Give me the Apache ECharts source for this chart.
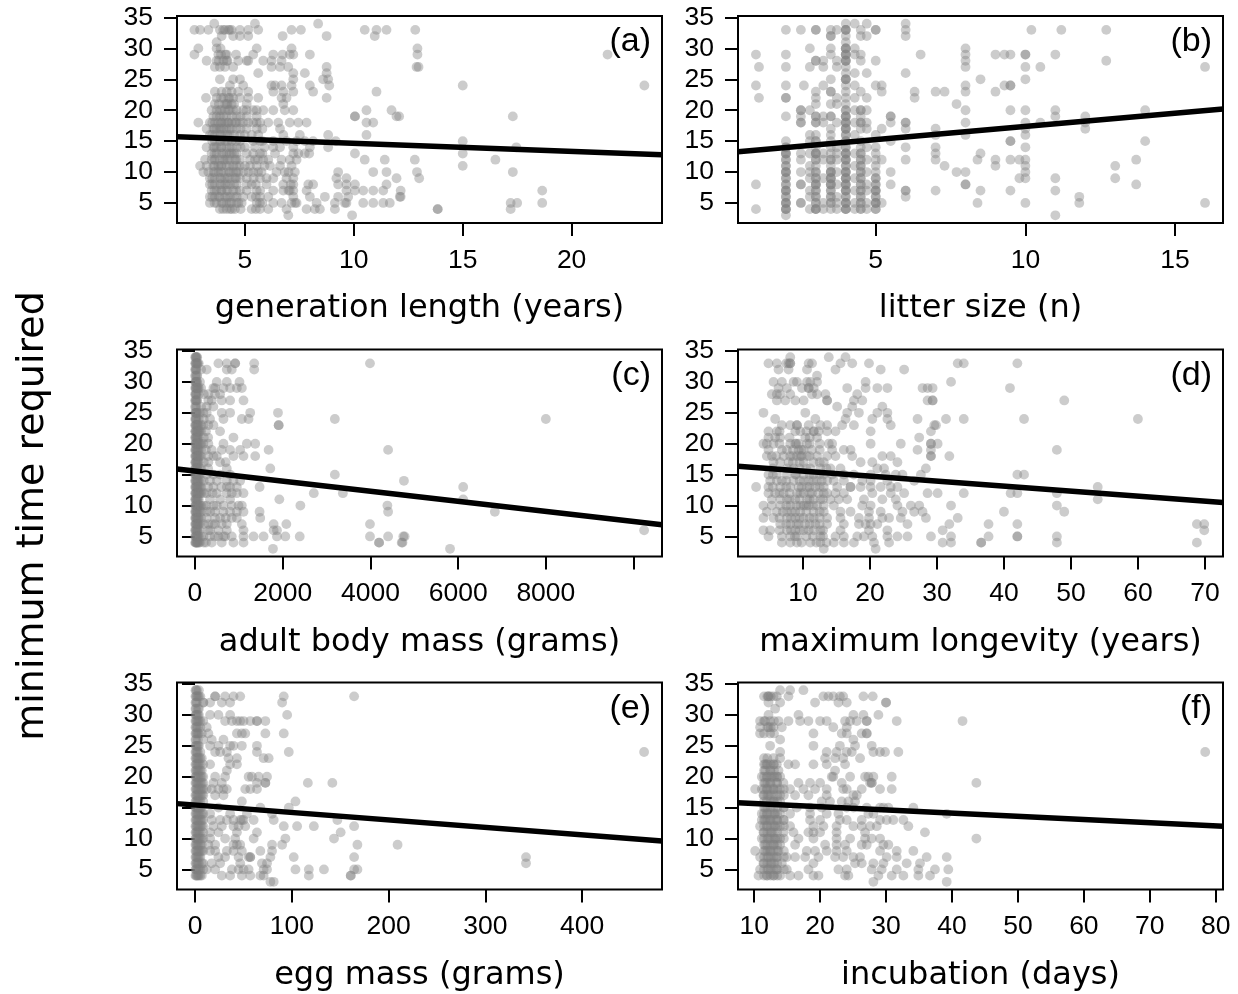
<!DOCTYPE html>
<html><head><meta charset="utf-8">
<script src="https://cdn.jsdelivr.net/npm/echarts@6/dist/echarts.min.js"></script>
<style>html,body{margin:0;padding:0;background:#fff}#c{width:1238px;height:994px}</style>
</head><body><div id="c"></div><script>
// ---------- DATA ----------
// rows: [y, x1, x2, ...]   cols: [x, y1, y2, ...]
const genLengthRows = [
[34,3.59,5.46,8.36],
[33,2.68,2.94,3.32,3.85,4.08,4.24,4.39,4.77,5.15,5.61,7.14,7.57,10.5,11.04,11.5,12.82,4.0,4.3],
[32,3.93,4.46,4.77,5.15,6.73,8.75,10.96],
[31,3.7],
[30,2.86,3.7,3.88,5.54,7.14,12.92],
[29,2.68,3.78,4.16,4.59,5.38,6.3,6.73,7.06,7.22,7.98,12.92,21.65,3.9,4.1],
[28,3.24,3.7,4.01,4.16,4.69,5.08,5.15,5.84,6.22,6.68,3.8,4.2],
[27,3.62,3.85,4.08,4.46,6.22,6.61,6.99,8.75,12.88,12.97],
[26,5.61,7.22,7.75,8.75],
[25,3.85,4.46,4.77,7.22,8.59,8.82],
[24,4.31,4.92,6.22,6.38,6.68,7.14,7.98,8.87,15.0,23.34],
[23,3.62,3.93,4.16,4.39,4.69,5.15,6.3,6.76,7.22,8.13,11.04],
[22,3.21,3.7,4.01,4.24,4.46,4.77,5.15,5.61,6.68,6.91,8.75,3.9,4.3],
[21,3.62,4.08,4.16,4.39,5.08,6.76,3.8,4.2,4.5],
[20,3.47,3.7,3.85,4.08,4.24,4.46,4.62,4.92,5.08,5.38,5.54,5.84,6.3,6.83,7.22,10.58,11.73,3.9,4.3],
[19,3.55,3.85,4.16,4.62,5.08,5.54,10.05,10.05,11.96,12.08,17.3,3.7,4.0,4.4,4.8],
[18,2.86,3.39,3.62,3.78,3.93,4.08,4.24,4.39,4.54,4.77,4.92,5.15,5.38,5.54,6.07,6.53,7.06,7.45,7.83,10.58,10.89,3.5,3.9,4.2,4.6,5.7],
[17,3.24,3.55,3.7,3.85,4.01,4.16,4.39,4.62,5.08,5.54,6.61,3.6,3.9,4.3,4.8,5.8],
[16,3.39,3.62,3.85,4.08,4.31,4.77,4.99,5.31,5.61,6.76,7.52,8.82,10.58,3.5,3.9,4.2,4.5],
[15,3.62,3.85,4.08,4.39,4.77,5.38,5.69,6.3,6.91,7.37,7.75,8.13,9.17,15.0,3.5,3.9,4.2,4.6,5.8],
[14,3.24,3.55,3.7,3.93,4.16,4.39,4.62,5.0,5.46,6.3,6.61,7.22,7.98,8.82,17.46,3.6,3.9,4.3,4.8,5.9],
[13,3.47,3.7,3.93,4.16,4.39,4.62,5.08,5.38,5.69,6.38,7.22,7.45,7.75,7.95,10.05,15.0,3.6,4.0,4.3,4.5,5.8],
[12,3.17,3.47,3.62,3.85,4.08,4.31,4.54,4.77,5.23,5.46,5.84,6.07,6.68,7.06,7.37,10.5,11.42,12.8,16.5,3.6,4.0,4.2,4.6,5.6],
[11,2.94,3.24,3.55,3.78,3.93,4.16,4.46,4.77,5.0,5.23,5.54,6.15,6.61,7.14,15.0,3.6,3.9,4.3,4.6,5.9],
[10,3.09,3.32,3.55,3.78,4.01,4.24,4.46,4.69,4.92,5.15,5.38,5.76,6.45,6.83,7.29,9.28,10.89,11.5,12.9,17.3,3.6,3.9,4.3,4.6,5.6,7.0],
[9,3.39,3.62,3.85,4.08,4.31,4.54,4.77,5.08,5.69,5.99,6.3,6.91,7.22,9.2,9.66,11.96,13.0,3.5,3.9,4.2,4.6,5.4],
[8,3.39,3.62,3.85,4.08,4.31,4.62,5.08,5.31,5.99,6.76,7.22,7.91,8.13,9.28,9.66,10.05,11.5,3.5,3.9,4.2,4.5,5.5,7.1],
[7,3.47,3.7,3.93,4.16,4.46,4.77,5.08,5.54,6.3,6.76,7.06,7.22,7.83,9.66,10.05,10.43,10.89,11.35,12.15,18.65,3.6,3.9,4.2,4.6,5.7,7.0],
[6,3.39,3.62,3.85,4.08,4.31,4.62,4.92,5.31,5.69,6.07,7.22,7.98,8.67,9.28,9.74,12.11,12.15,3.5,3.8,4.2,4.5,5.5],
[5,3.39,3.7,3.93,4.16,4.39,4.62,4.85,5.54,5.69,6.3,6.68,7.14,7.37,8.29,9.13,9.59,9.66,10.43,10.89,11.35,11.65,17.2,17.5,18.65,3.6,4.0,4.3,4.7,5.8,7.3],
[4,3.85,4.16,4.31,4.54,5.31,5.69,6.07,6.91,7.83,8.21,8.44,9.13,13.85,13.85,17.2,4.0,4.4,4.8,5.5],
[3,6.99,9.92]
];
const litterSizeCols = [
[1.0,29,24,8,4],[1.1,27,22],
[2.0,33,29,27,24,22,22,19,15,14,13,13,12,11,10,10,9,8,7,7,6,5,5,4,4,3,14,13,12,11,10,9,8,7,6,5,4],
[2.5,33,20,20,19,18,18,13,12,10,8,8,5,5],[2.6,24],
[2.8,30,27,20,16,15,13,11,10,9,7,6,4],
[3.0,33,33,28,28,23,22,21,19,19,18,18,16,15,14,13,13,12,11,10,9,8,8,7,6,6,5,4,4,15,13,12,10,9,8,7,5,4],
[3.25,28,27,24,19,18,13,12,9,5,4],
[3.5,33,32,32,30,29,25,23,23,21,19,19,17,16,15,13,12,11,10,10,9,9,8,8,7,6,5,4,14,12,10,9,8,7,6,5],
[3.7,33,28,27,22,21,18,14,13,12,10,8,6,5,4],
[4.0,34,33,33,32,31,30,30,29,29,28,28,27,26,25,25,24,23,22,21,20,19,19,18,18,17,17,16,15,14,13,13,12,12,11,10,10,9,9,8,8,7,7,6,5,5,4,4,33,30,29,28,25,20,19,18,17,16,15,14,13,12,11,10,9,8,7,6,5,4],
[4.3,34,30,29,26,24,22,20,18,16,13,11,9,7,5,4],
[4.5,33,32,29,28,23,20,20,19,18,18,17,15,13,13,12,11,10,10,9,8,7,7,6,5,4,4,14,12,11,9,8,6,5],
[4.7,34,32,26,22,20,18,17,14,12,10,8,7,5,4],
[5.0,33,33,28,24,16,14,13,12,10,9,8,8,7,7,6,5,5,4,4,11,9,7,6,5],
[5.2,24,23,17,12,5],
[5.5,19,19,18,15,10,8],
[6.0,34,33,32,26,18,18,17,14,12,7,7,6],
[6.3,23,22],[6.5,29],
[7.0,23,17,16,14,13,12,7],
[7.3,23,11],[7.7,21,10],
[8.0,30,29,28,27,24,23,20,18,16,10,8,8],
[8.4,12,5],[8.5,25,13,7],
[9.0,29,23,12,11],[9.3,29,24],[9.5,29,24,24,20,15,15,12,7],[9.8,12,9],
[10.0,29,29,27,25,20,18,17,16,14,12,11,10,9,5],
[10.2,33],[10.5,27,18],
[11.0,29,20,19,9,7,3],[11.2,33],[11.8,6,5],[12.0,19,18,17],
[12.7,33,28],[13.0,11,9],[13.7,12,8],[14.0,20,15],[16.0,27,5]
];
const bodyMassRows = [
[33,534,725,916,916,1350,3990],
[32,267,725,839,1350],
[30,114,496,725,1015],
[29,420,458,649,801,954,1068],
[28,458,572,300],
[27,305,382,610,801,1106],
[26,267,420],
[25,191,267,610,801,1259,1892],
[24,343,649,1068,1221,3189,8000],
[23,191,305,420,1908,1908],
[22,572,250],
[21,877,300],
[20,191,305,649,1183,1373],
[19,382,610,801,1030,1679,4403,250],
[18,420,496,877,1106,1373,300],
[17,305,572,700],
[16,725,1717,300],
[15,267,420,572,3189,800],
[14,343,725,877,1030,4764,500],
[13,420,725,801,954,1473,6115,300,600],
[12,267,496,725,839,954,1106,2709,3372,400],
[11,343,572,1923,6115,800],
[10,267,420,496,839,992,1068,2403,4387,650],
[9,267,458,649,801,954,1106,1473,4403,6837,350],
[8,267,458,572,839,954,1488,700],
[7,305,458,610,725,1068,1793,2083,3990,400],
[6,343,534,725,1106,1793,1869,10240,300],
[5,191,343,534,649,687,839,1106,1335,1564,1869,2060,2388,3990,4403,4750,4780,450],
[4,382,610,877,1106,4197,4197,4713,4731,250],
[3,1778,5815]
];
const bodyMassCols = [
[5,4,5,6,7,8,9,10,11,12,13,14,15,16,17,18,19,20,21,22,23,24,25,26,27,28,29,30,31,32,33,34],
[15,4,5,6,7,8,9,10,11,12,13,14,15,16,17,18,19,20,21,22,23,24,25,26,27,28,29,30,31,32,33,34],
[25,4,5,6,7,8,9,10,11,12,13,14,15,16,17,18,19,20,21,22,23,24,25,27,28,29,30,32,33,34],
[38,4,5,6,7,8,9,10,11,12,13,14,15,16,17,18,19,20,21,22,23,24,25,26,27,28,29,30,31,32,33,34],
[50,4,5,6,7,8,9,10,11,12,13,14,15,16,17,18,19,20,21,22,23,25,27,29,30,31,33,34],
[65,4,5,6,7,8,9,10,11,12,13,14,15,16,17,18,19,20,21,22,23,29,33],
[85,4,5,7,8,10,11,12,13,14,15,17,18,19,20,21,22,23,24,28,29,33],
[110,4,6,7,9,10,12,13,15,16,18,20,22,25],
[140,5,8,9,10,12,13,14,16,18,19,20,22,23,26,29,32],
[200,4,7,10,12,14,17,21,24,28]
];
const longevityRows = [
[34,8.1,13.85,16.35],
[33,4.85,6.1,7.5,7.85,8.1,8.1,10.85,11.35,15.6,17.35,19.85,33.1,34.0,42.0],
[32,6.35,7.85,10.6,14.85,21.6,25.1],
[31,12.1],
[30,5.6,6.85,8.6,9.1,10.6,11.1,12.1,19.35,32.1],
[29,6.35,7.6,9.85,10.85,10.85,11.6,16.6,19.35,21.1,22.6,27.85,28.6,29.35,40.9],
[28,5.35,6.1,6.6,8.1,11.35,12.1,13.35,18.1],
[27,6.1,7.35,8.85,10.1,13.6,13.6,17.6,18.85,28.6,29.35,29.35,49.0],
[26,15.1,17.35,21.85],
[25,4.1,10.35,16.6,18.35,21.1,22.6],
[24,5.85,11.85,16.35,20.35,22.6,27.1,31.35,34.0,43.0,60.0],
[23,6.85,8.1,9.1,9.1,10.85,12.6,13.6,15.85,17.6,23.1,29.6,29.85],
[22,4.85,6.1,8.85,9.6,11.6,11.6,12.35,13.6,14.85,20.1,29.1,6.5,10.5],
[21,4.85,5.85,6.6,10.35,12.1,27.35,8.0,11.0],
[20,4.1,4.6,5.6,8.1,8.85,9.35,10.6,13.85,14.35,20.1,24.6,29.1,29.1,30.1,6.5,9.0,11.0,12.5],
[19,4.85,6.85,7.6,9.35,10.1,11.35,14.35,16.1,17.1,27.1,29.1,47.9,8.5,9.8,12.5],
[18,4.6,5.35,7.1,8.1,9.1,9.6,10.6,12.1,13.6,14.85,17.35,21.85,23.1,29.1,29.1,31.85,6.0,8.5,9.8,11.0],
[17,5.6,6.6,7.85,10.1,11.6,13.1,18.6,20.35,24.1,8.5,9.5,12.5],
[16,7.6,8.6,11.1,12.6,14.1,15.6,21.1,22.1,28.35,5.5,9.5,10.5,13.5],
[15,4.85,6.1,7.6,8.85,10.1,11.6,13.1,14.35,16.1,17.6,20.1,22.35,23.85,24.85,27.6,42.0,43.0,5.5,9.0,11.0,12.5],
[14,5.1,6.1,6.85,8.6,10.1,10.85,12.1,13.6,14.6,16.1,18.85,20.1,22.6,26.6,7.5,9.5,11.5,12.8],
[13,3.0,4.85,6.6,8.1,9.35,10.6,11.85,13.1,15.1,17.1,17.1,18.6,20.1,21.6,23.1,24.1,54.0,5.5,7.5,9.8,11.0,12.5],
[12,4.85,5.85,7.1,9.1,10.1,11.35,13.1,13.6,14.85,16.1,20.35,23.1,25.1,28.6,30.1,34.0,41.0,42.0,47.9,6.5,8.0,9.6,11.0,12.3],
[11,5.35,6.6,7.6,8.85,10.6,11.6,12.6,14.1,15.35,16.6,19.1,21.85,23.85,54.0,8.0,9.5,11.0,13.0],
[10,4.1,5.35,6.6,8.1,9.6,10.1,10.85,12.1,13.1,14.6,18.85,20.1,24.1,26.1,27.35,32.1,47.9,7.5,9.0,10.5,11.5],
[9,4.6,6.1,7.6,8.85,9.6,11.6,13.1,15.6,17.1,19.85,21.6,24.85,26.6,27.85,40.0,49.0,7.0,8.3,10.5,12.5],
[8,4.1,5.6,7.6,8.85,10.1,11.6,13.6,15.6,18.35,19.85,21.85,22.85,24.6,28.35,33.1,6.5,8.2,9.5,11.0,12.5],
[7,6.6,8.1,9.35,10.35,11.85,13.6,16.1,18.35,19.35,20.1,21.1,25.6,31.85,37.7,42.0,68.8,69.9,7.5,9.0,11.0,12.5],
[6,4.1,5.1,7.6,8.85,10.1,10.85,11.6,12.6,15.6,19.85,22.6,30.85,69.9,6.5,8.2,9.5,13.0],
[5,4.85,6.85,8.1,9.1,12.6,14.85,16.1,18.1,19.1,20.35,22.6,24.1,25.6,29.1,32.1,37.7,42.0,42.0,47.9,8.8,10.5,11.5,13.0],
[4,6.85,8.1,9.1,11.1,12.6,14.6,16.1,17.6,20.6,22.85,30.85,32.1,36.6,36.6,47.9,68.8,9.8,12.0,13.5],
[3,13.1,20.85]
];
const eggMassRows = [
[33,20.8,20.8,31.1,39.8,46.7,91.7,164.4],
[32,8.7,15.6,27.7,36.3,90.0],
[30,15.6,24.2,36.3,95.2],
[29,31.1,38.1,43.3,46.7,50.2,57.1,64.0,64.0,72.7],
[28,12.1],
[27,13.8,43.3,48.4,51.9,72.7,91.7],
[26,17.3,29.4],
[25,15.6,24.2,36.3,39.8,48.4,64.0],
[24,20.8,26.0,32.9,64.0,96.9,464],
[23,34.6,43.3,70.9,76.1],
[22,15.6,36.3,43.3],
[21,32.9],
[20,20.8,31.1,55.4,58.8,65.7,74.4],
[19,19.0,27.7,64.0,72.7,72.7,116.6,141.9],
[18,12.1,17.3,24.2,29.4,32.9,51.9,57.1,64.0],
[17,20.8,29.4],
[16,48.4,103.8],
[15,24.2,67.5,96.9],
[14,15.6,36.3,53.6,79.6],
[13,17.3,26.0,32.9,39.8,46.7,48.4,50.2,60.6,81.3,147.1],
[12,19.0,27.7,39.8,45.0,51.9,91.7,105.5,122.8,164.4],
[11,15.6,24.2,43.3,64.0,150.5],
[10,15.6,31.1,41.5,60.6,93.4,143.6],
[9,13.8,20.8,39.8,43.3,46.7,79.6,90.0,167.8,209.3],
[8,15.6,20.8,32.9,39.8,48.4,67.5,79.6],
[7,24.2,31.1,45.0,55.4,57.1,57.1,77.9,102,164.4,342],
[6,17.3,26.0,46.7,69.2,74.4,342],
[5,12.1,20.8,38.1,45.0,50.2,55.4,70.9,74.4,103.8,117.6,133.2,164.4,167.8],
[4,27.7,36.3,48.4,57.1,67.5,70.9,117.6,160.9,160.9],
[3,77.9,81.3]
];
const eggMassCols = [
[0.5,4,5,6,7,8,9,10,11,12,13,14,15,16,17,18,19,20,21,22,23,24,25,26,27,28,29,30,31,32,33,34],
[1.2,4,5,6,7,8,9,10,11,12,13,14,15,16,17,18,19,20,21,22,23,24,25,26,27,28,29,30,31,32,33,34],
[2,4,5,6,7,8,9,10,11,12,13,14,15,16,17,18,19,20,21,22,23,24,25,27,28,29,30,32,33,34],
[3,4,5,6,7,8,9,10,11,12,13,14,15,16,17,18,19,20,21,22,23,24,25,26,27,28,29,30,31,33],
[4,4,5,6,7,8,9,10,11,12,13,14,15,16,17,18,19,20,21,22,23,25,27,29,30,31,33,34],
[5.5,4,5,7,8,9,10,11,12,13,14,15,16,17,18,19,20,21,22,23,24,28,29,33],
[7,4,6,8,9,10,12,13,14,15,17,18,19,20,21,23,27],
[8.5,5,6,8,10,11,12,13,14,16,17,18,19,20,22,26,29,32]
];
const incubationRows = [
[34,13.94,15.45,17.47],
[33,12.17,12.17,12.93,13.43,15.2,20.5,21.26,22.0,23.0,23.5,26.57,27.98],
[32,12.17,13.94,19.24,22.78,24.04,30.0,30.0],
[31,13.18],
[30,12.17,16.72,25.05,26.57,28.84],
[29,10.9,11.67,12.42,13.69,15.2,16.97,18.23,20.0,21.0,23.79,24.55,25.56,27.07,27.07,31.62,41.6],
[28,10.9,12.17,12.93,14.19,22.0,24.04],
[27,10.9,12.42,18.99,23.28,24.04,26.31,27.07,27.07],
[26,13.94,25.05],
[25,12.42,18.99,23.0,25.3,27.83],
[24,13.94,21.0,22.5,24.04,24.8,28.08,29.09,29.85,31.87,78.4],
[23,12.93,13.94,20.76,22.27,23.5,26.06],
[22,11.67,11.92,12.93,13.43,15.2,16.21,18.99,21.0,23.79],
[21,11.67,12.42,13.69,22.27],
[20,11.16,11.92,12.68,13.43,13.94,21.77,22.0,24.55,26.82,27.32,28.08,30.86],
[19,11.67,12.42,13.43,14.44,16.72,18.48,20.0,23.28,27.58,27.83,27.83,43.7],
[18,10.15,11.16,11.92,12.93,13.94,15.45,17.47,19.24,21.0,23.5,24.04,26.31,29.09,30.86],
[17,11.41,12.17,13.94,16.21,18.23,21.0,25.05,25.56],
[16,11.92,12.93,13.94,20.25,21.5,23.28,24.29,25.3],
[15,11.67,12.93,14.44,16.46,18.48,20.25,24.04,25.05,27.07,29.09,29.6,30.35,34.14],
[14,11.16,11.92,13.18,13.94,15.45,18.48,21.0,22.78,27.32,28.08,39.2],
[13,11.16,11.67,12.42,13.43,14.44,18.48,20.0,23.0,24.04,26.31,29.09,30.1,31.1,32.63],
[12,10.9,11.92,13.18,13.94,15.45,18.99,20.5,22.5,25.05,26.31,27.58,28.59,33.38],
[11,11.41,12.68,14.44,15.96,18.23,18.99,20.0,22.5,26.82,35.9],
[10,11.16,12.17,13.18,13.94,16.72,18.99,22.5,24.55,26.82,27.83,29.09,43.7],
[9,11.67,12.93,13.94,16.21,20.76,22.5,23.79,26.31,27.07,29.6,30.35],
[8,10.15,11.67,12.42,13.69,17.98,19.24,21.0,22.5,24.04,29.09,31.62,34.14],
[7,10.9,12.17,13.43,14.95,16.21,17.73,19.75,22.27,23.5,25.05,26.06,30.1,31.62,36.16,39.2],
[6,11.41,12.68,14.19,18.99,25.3,26.31,28.08,29.6,33.13,35.15],
[5,10.9,12.17,13.43,14.95,18.23,22.78,24.04,27.83,29.34,31.62,34.9,37.42,39.44],
[4,10.66,11.92,12.93,13.94,15.45,16.72,18.99,19.75,23.79,24.29,28.84,30.86,32.63,34.9,36.67],
[3,28.08,39.2]
];
const incubationCols = [
[11.5,4,5,6,7,8,9,10,11,12,13,14,15,16,17,18,19,20,21,22,23,27,29,33],
[12.0,4,5,6,7,8,9,10,11,12,13,14,15,17,18,19,20,22,23,28,33],
[12.5,4,5,6,7,8,9,10,11,12,13,14,15,16,17,18,19,20,21,22,28,33],
[13.0,4,5,6,7,8,9,10,11,12,13,14,16,17,18,20,21,22,27,29],
[13.5,4,5,6,7,8,9,10,11,12,13,14,15,16,17,18,19,20],
[14.5,5,7,8,10,12,13,15,17,18]
];

// regression lines: [[x0,y0],[x1,y1]]
const lineA = [[1.88,15.7],[24.15,12.8]];
const lineB = [[0.4,13.3],[16.6,20.2]];
const lineC = [[-410,15.9],[10648,6.9]];
const lineD = [[0.3,16.35],[72.7,10.5]];
const lineE = [[-18.6,15.65],[482.5,9.6]];
const lineF = [[7.55,15.8],[81.1,12.0]];

const xTitles = ['generation length (years)','litter size (n)','adult body mass (grams)','maximum longevity (years)','egg mass (grams)','incubation (days)'];
const panelTags = ['(a)','(b)','(c)','(d)','(e)','(f)'];
const yTitle = 'minimum time required';
const yTicks = [5,10,15,20,25,30,35];
const xTickSets = [[5,10,15,20],[5,10,15],[0,2000,4000,6000,8000,10000],[10,20,30,40,50,60,70],[0,100,200,300,400],[10,20,30,40,50,60,70,80]];
const xLabelSets = [[5,10,15,20],[5,10,15],[0,2000,4000,6000,8000],[10,20,30,40,50,60,70],[0,100,200,300,400],[10,20,30,40,50,60,70,80]];
const xMins = [1.88,0.4,-410,0.3,-18.6,7.55];
const xMaxs = [24.15,16.6,10648,72.7,482.5,81.1];
const yMin = 1.76, yMax = 35.24;

// ---------- BUILD ----------
function fromRows(rows){const o=[];rows.forEach(r=>{for(let i=1;i<r.length;i++)o.push([r[i],r[0]]);});return o;}
function fromCols(cols){const o=[];cols.forEach(c=>{for(let i=1;i<c.length;i++)o.push([c[0],c[i]]);});return o;}
const points = [
  fromRows(genLengthRows),
  fromCols(litterSizeCols),
  fromCols(bodyMassCols).concat(fromRows(bodyMassRows)),
  fromRows(longevityRows),
  fromCols(eggMassCols).concat(fromRows(eggMassRows)),
  fromCols(incubationCols).concat(fromRows(incubationRows))
];
const lines = [lineA,lineB,lineC,lineD,lineE,lineF];

const FONT = 'DejaVu Sans';
const TICKFONT = 'Liberation Sans';
const TAGFONT = 'Liberation Sans';
const gLeft = [177,738], gTop = [16,349.5,682.5], GW = 485, GH = 207;
const grids=[], xAxes=[], yAxes=[], series=[], graphics=[];
for(let i=0;i<6;i++){
  const left = gLeft[i%2], top = gTop[Math.floor(i/2)];
  grids.push({left:left, top:top, width:GW, height:GH, show:true, borderColor:'#000', borderWidth:2, backgroundColor:'transparent', containLabel:false});
  xAxes.push({type:'value', gridIndex:i, min:xMins[i], max:xMaxs[i],
    axisLine:{show:false}, splitLine:{show:false},
    axisTick:{show:true, inside:false, length:13, lineStyle:{color:'#000', width:2}, customValues:xTickSets[i]},
    axisLabel:{show:true, customValues:xLabelSets[i], margin:24, fontSize:26.5, fontFamily:TICKFONT, color:'#000', formatter:v=>String(v)},
    name:xTitles[i], nameLocation:'middle', nameGap:70, nameTextStyle:{fontSize:32, fontFamily:FONT, color:'#000'}
  });
  yAxes.push({type:'value', gridIndex:i, min:yMin, max:yMax,
    axisLine:{show:false}, splitLine:{show:false},
    axisTick:{show:true, inside:false, length:13, lineStyle:{color:'#000', width:2}, customValues:yTicks},
    axisLabel:{show:true, customValues:yTicks, margin:24, fontSize:26.5, fontFamily:TICKFONT, color:'#000', formatter:v=>String(v)}
  });
  series.push({type:'scatter', xAxisIndex:i, yAxisIndex:i, data:points[i], symbol:'circle', symbolSize:9.8,
    itemStyle:{color:'rgba(128,128,128,0.5)'}, silent:true, z:2});
  series.push({type:'line', xAxisIndex:i, yAxisIndex:i, data:lines[i], symbol:'none', clip:true,
    lineStyle:{color:'#000', width:5.5}, silent:true, z:3});
  graphics.push({type:'text', x:left+GW-11, y:top+26, style:{text:panelTags[i], fontSize:34, fontFamily:TAGFONT, fill:'#000', align:'right', verticalAlign:'middle'}});
}
graphics.push({type:'text', x:33, y:516, rotation:Math.PI/2, style:{text:yTitle, fontSize:38, fontFamily:FONT, fill:'#000', align:'center', verticalAlign:'middle'}});

const chart = echarts.init(document.getElementById('c'), null, {renderer:'canvas'});
chart.setOption({animation:false, backgroundColor:'#fff', grid:grids, xAxis:xAxes, yAxis:yAxes, series:series, graphic:graphics});
</script></body></html>
